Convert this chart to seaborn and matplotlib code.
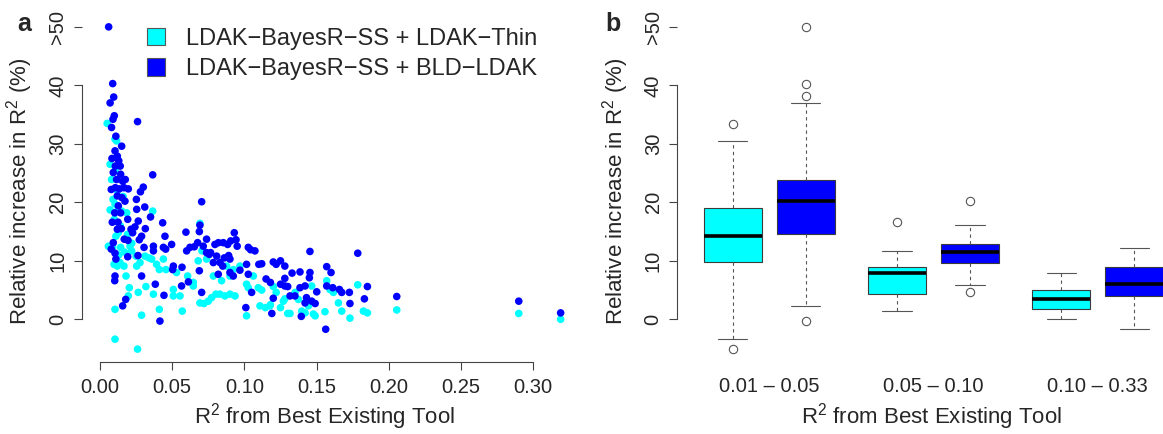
import matplotlib
matplotlib.use("Agg")
import matplotlib.pyplot as plt
from matplotlib.patches import Patch
import pandas as pd
import seaborn as sns

#%% Data
LAB_THIN = "LDAK\u2212BayesR\u2212SS + LDAK\u2212Thin"
LAB_BLD = "LDAK\u2212BayesR\u2212SS + BLD\u2212LDAK"

# panel a, LDAK-Thin (cyan)
thin_x = [0.005, 0.0104, 0.0115, 0.007, 0.008, 0.009, 0.007, 0.0104, 0.0127, 0.015,
          0.0185, 0.0365, 0.0099, 0.0127, 0.0058, 0.0088, 0.011, 0.0143, 0.0208, 0.0219,
          0.0097, 0.0138, 0.0166, 0.018, 0.0203, 0.012, 0.0254, 0.0277, 0.025, 0.0312,
          0.0339, 0.0358, 0.0392, 0.0439, 0.0411, 0.0457, 0.0318, 0.037, 0.0265, 0.0196,
          0.0104, 0.0288, 0.0411, 0.057, 0.0104, 0.026, 0.0508, 0.0508, 0.0554, 0.053,
          0.0607, 0.0646, 0.0646, 0.0692, 0.068, 0.0706, 0.0738, 0.0692, 0.072, 0.075,
          0.0773, 0.0803, 0.083, 0.0865, 0.090, 0.0935, 0.0785, 0.0842, 0.090, 0.0877,
          0.0923, 0.0969, 0.1015, 0.1027, 0.1015, 0.1062, 0.1096, 0.1108, 0.1145, 0.1177,
          0.112, 0.118, 0.122, 0.125, 0.128, 0.130, 0.120, 0.127, 0.1316, 0.1351,
          0.1374, 0.1397, 0.142, 0.1443, 0.1478, 0.149, 0.1466, 0.1558, 0.157, 0.1593,
          0.1616, 0.1651, 0.1674, 0.1731, 0.1785, 0.1824, 0.1852, 0.2055, 0.290, 0.319,
          0.012, 0.016, 0.014, 0.019, 0.022, 0.0105, 0.013, 0.017]
thin_y = [33.5, 30.8, 30.5, 26.5, 23.9, 20.5, 18.7, 19.7, 18.8, 18.5,
          18.2, 18.5, 17.1, 14.8, 12.5, 12.3, 14.2, 12.3, 12.5, 11.7,
          9.4, 9.7, 9.1, 7.4, 5.4, 9.1, 9.1, 9.7, 10.8, 10.8,
          10.5, 10.3, 9.4, 10.3, 8.5, 8.5, 5.6, 4.3, 4.6, 4.0,
          1.7, 0.7, 1.7, 1.4, -3.4, -5.1, 5.1, 4.0, 4.0, 8.0,
          7.4, 5.7, 6.3, 16.4, 10.0, 11.7, 10.3, 2.8, 2.7, 3.1,
          3.7, 4.3, 4.3, 4.0, 4.3, 4.0, 7.4, 6.6, 7.4, 9.1,
          8.5, 9.1, 6.0, 5.4, 0.6, 7.4, 5.4, 2.3, 2.0, 2.3,
          5.0, 2.5, 4.6, 2.0, 3.5, 1.0, 5.6, 3.1, 1.0, 4.6,
          3.4, 1.4, 1.1, 2.3, 0.9, 0.6, 5.7, 1.3, 6.6, 5.1,
          4.6, 2.8, 1.4, 0.2, 5.9, 1.4, 1.1, 1.6, 1.0, 0.0,
          22.0, 21.0, 16.0, 14.5, 13.0, 25.5, 11.0, 11.5]

# panel a, BLD-LDAK (blue)
bld_x = [0.006, 0.0088, 0.0095, 0.007, 0.0099, 0.009, 0.008, 0.011, 0.015, 0.0104,
         0.0083, 0.012, 0.013, 0.0106, 0.014, 0.0092, 0.0143, 0.0115, 0.0157, 0.0175,
         0.0078, 0.0106, 0.0134, 0.0166, 0.0196, 0.012, 0.0152, 0.0173, 0.0127, 0.0102,
         0.0143, 0.0085, 0.0125, 0.0192, 0.012, 0.0148, 0.0215, 0.0226, 0.0168, 0.0194,
         0.0092, 0.0078, 0.0104, 0.011, 0.0192, 0.0104, 0.0102, 0.0288, 0.0178, 0.0157,
         0.0415, 0.026, 0.0365, 0.030, 0.028, 0.0252, 0.0254, 0.031, 0.035, 0.0434,
         0.0242, 0.0265, 0.0314, 0.0288, 0.0272, 0.0305, 0.037, 0.045, 0.0439, 0.0496,
         0.0263, 0.037, 0.0455, 0.0508, 0.0503, 0.0383, 0.0443, 0.0568, 0.0595, 0.060,
         0.0565, 0.0612, 0.0704, 0.0692, 0.0688, 0.0653, 0.0676, 0.0623, 0.0715, 0.0738,
         0.0738, 0.0766, 0.0796, 0.082, 0.0854, 0.0884, 0.0905, 0.093, 0.0942, 0.095,
         0.0688, 0.0704, 0.0757, 0.0785, 0.0808, 0.0831, 0.085, 0.0861, 0.0891, 0.090,
         0.0819, 0.090, 0.0923, 0.0969, 0.1015, 0.1027, 0.1043, 0.1073, 0.110, 0.1027,
         0.101, 0.105, 0.112, 0.115, 0.118, 0.120, 0.122, 0.125, 0.125, 0.128,
         0.130, 0.120, 0.119, 0.135, 0.128, 0.133, 0.1385, 0.1454, 0.1454, 0.145,
         0.128, 0.1385, 0.142, 0.1316, 0.143, 0.1466, 0.142, 0.149, 0.1394, 0.1501,
         0.1563, 0.157, 0.160, 0.157, 0.1612, 0.1658, 0.1674, 0.1727, 0.1731, 0.1785,
         0.1831, 0.1852, 0.2055, 0.290, 0.319]
bld_y = [50.0, 40.3, 38.0, 37.0, 34.8, 34.2, 32.8, 31.3, 29.6, 28.8,
         27.5, 27.9, 27.1, 26.2, 26.2, 25.1, 24.8, 23.9, 23.6, 23.9,
         22.2, 22.5, 22.3, 22.5, 22.3, 21.1, 20.8, 20.2, 19.4, 18.2,
         18.2, 16.6, 16.6, 17.1, 15.4, 15.5, 15.4, 14.8, 13.7, 13.5,
         13.1, 12.0, 11.3, 10.3, 10.7, 7.4, 6.6, 7.4, 3.4, 2.3,
         -0.3, 33.8, 24.7, 22.6, 21.8, 20.5, 18.8, 19.2, 17.5, 16.5,
         15.8, 16.8, 15.5, 14.2, 13.6, 12.3, 12.5, 14.2, 12.3, 12.8,
         10.9, 11.7, 12.0, 9.1, 8.5, 6.0, 4.1, 8.9, 14.9, 11.7,
         5.7, 6.4, 20.1, 16.1, 15.0, 12.4, 13.1, 12.3, 12.5, 13.7,
         11.4, 11.4, 12.8, 13.1, 13.1, 12.8, 13.4, 14.8, 13.6, 12.5,
         8.3, 4.6, 11.1, 9.7, 10.8, 9.7, 9.1, 10.5, 10.9, 10.3,
         7.7, 8.0, 7.4, 8.4, 9.4, 12.3, 11.9, 11.7, 9.4, 7.7,
         2.0, 4.6, 9.5, 6.9, 6.3, 9.8, 9.4, 10.0, 6.0, 7.0,
         5.6, 3.6, 1.0, 4.0, 9.1, 7.9, 8.1, 11.6, 8.0, 7.1,
         5.7, 5.4, 5.7, 4.0, 3.7, 3.1, 2.8, 2.7, 0.5, 4.7,
         -1.7, 9.0, 8.0, 5.7, 5.4, 5.1, 4.6, 4.6, 2.7, 11.3,
         3.5, 5.6, 3.9, 3.1, 1.1]

bins = ["0.01 \u2013 0.05", "0.05 \u2013 0.10", "0.10 \u2013 0.33"]
thin_bin1 = [-5.1, -3.4, 9.8, 12.0, 14.2, 16.5, 19.1, 30.5, 33.4]
thin_bin2 = [1.4, 3.0, 4.3, 6.0, 7.9, 8.5, 9.0, 11.6, 16.6]
thin_bin3 = [0.1, 1.7, 3.5, 5.0, 7.9]
bld_bin1 = [-0.3, 2.2, 8.0, 12.0, 14.6, 16.0, 17.5, 19.0, 20.2, 21.0, 22.0, 23.0,
            23.8, 37.0, 38.1, 40.3, 50.0]
bld_bin2 = [4.7, 5.9, 9.7, 10.5, 11.5, 12.2, 12.9, 16.1, 20.2]
bld_bin3 = [-1.7, 4.0, 6.0, 8.9, 12.2]
box_pos = [1.0, 2.0, 3.25, 4.25, 5.5, 6.5]   # R boxplot "at" positions
label_pos = [1.5, 3.75, 6.0]

#%% Style
sns.set_style("ticks")
plt.rcParams['font.family'] = ['Liberation Sans', 'DejaVu Sans']
plt.rcParams['mathtext.fontset'] = 'custom'
plt.rcParams['mathtext.rm'] = 'Liberation Sans'
plt.rcParams['mathtext.it'] = 'Liberation Sans:italic'

CYAN = "#00FFFF"
BLUE = "#0000FF"
AXC = "#444444"
palette = {LAB_THIN: CYAN, LAB_BLD: BLUE}

W, H = 1163, 434
fig = plt.figure(figsize=(W / 100, H / 100), dpi=100)
ax_a = fig.add_axes([81.7 / W, 1 - 362 / H, (568 - 81.7) / W, 348 / H])
ax_b = fig.add_axes([677.3 / W, 1 - 362 / H, (1163 - 677.3) / W, 348 / H])


def style_y(ax, width_px):
    ax.set_ylim(-7.3, 52.2)
    ax.set_yticks([0, 10, 20, 30, 40, 50])
    ax.set_yticklabels(['0', '10', '20', '30', '40', '>50'], rotation=90, va='center')
    ax.spines['left'].set_bounds(0, 40)
    ax.spines['left'].set_color(AXC)
    ax.spines['left'].set_linewidth(0.8)
    for s in ['top', 'right']:
        ax.spines[s].set_visible(False)
    ax.tick_params(axis='y', length=5.5, width=0.8, color=AXC, labelsize=14.5, pad=5)
    ax.set_ylabel('Relative increase in R$^2$ (%)', fontsize=16)
    ax.yaxis.set_label_coords(-46.7 / width_px, 0.49)


#%% Panel a - scatter
df_a = pd.DataFrame({
    'x': thin_x + bld_x,
    'y': thin_y + bld_y,
    'method': [LAB_THIN] * len(thin_x) + [LAB_BLD] * len(bld_x),
})
sns.scatterplot(data=df_a, x='x', y='y', hue='method', palette=palette,
                s=30, linewidth=0, legend=False, ax=ax_a)
ax_a.set_xlim(-0.01267, 0.3241)
ax_a.set_xticks([0, 0.05, 0.10, 0.15, 0.20, 0.25, 0.30])
ax_a.set_xticklabels(['0.00', '0.05', '0.10', '0.15', '0.20', '0.25', '0.30'])
ax_a.spines['bottom'].set_bounds(0, 0.30)
ax_a.spines['bottom'].set_color(AXC)
ax_a.spines['bottom'].set_linewidth(0.8)
ax_a.tick_params(axis='x', length=5.5, width=0.8, color=AXC, labelsize=14.5, pad=6)
style_y(ax_a, 568 - 81.7)
ax_a.set_xlabel('R$^2$ from Best Existing Tool', fontsize=16)
ax_a.xaxis.set_label_coords(0.5, -0.113)

#%% Panel b - boxplots
box_values = [thin_bin1, bld_bin1, thin_bin2, bld_bin2, thin_bin3, bld_bin3]
box_method = [LAB_THIN, LAB_BLD] * 3
rows = []
for p, vals, m in zip(box_pos, box_values, box_method):
    for v in vals:
        rows.append({'pos': p, 'value': v, 'method': m})
df_b = pd.DataFrame(rows)

sns.boxplot(data=df_b, x='pos', y='value', hue='method', palette=palette,
            native_scale=True, dodge=False, width=0.8, saturation=1,
            linecolor='#3a3a3a', linewidth=0.8, whis=1.5, legend=False,
            medianprops={'color': 'black', 'linewidth': 2.6},
            whiskerprops={'color': '#555555', 'linestyle': (0, (3, 3))},
            capprops={'color': '#555555'},
            flierprops={'marker': 'o', 'markersize': 6, 'markerfacecolor': 'none',
                        'markeredgecolor': '#555555', 'markeredgewidth': 0.8},
            ax=ax_b)
ax_b.set_xlim(0.241, 6.894)
ax_b.set_xticks(label_pos)
ax_b.set_xticklabels(bins)
ax_b.spines['bottom'].set_visible(False)
ax_b.tick_params(axis='x', length=0, labelsize=14.5, pad=11)
style_y(ax_b, 1163 - 677.3)
ax_b.set_xlabel('R$^2$ from Best Existing Tool', fontsize=16)
ax_b.xaxis.set_label_coords((932 - 677.3) / (1163 - 677.3), -0.113)

#%% Legend and panel letters
handles = [Patch(facecolor=CYAN, edgecolor='#555555', linewidth=0.8),
           Patch(facecolor=BLUE, edgecolor='#555555', linewidth=0.8)]
fig.legend(handles, [LAB_THIN, LAB_BLD], loc='upper left',
           bbox_to_anchor=(147 / W, 1 - 28 / H), frameon=False, fontsize=17,
           handlelength=0.75, handleheight=0.75, handletextpad=0.9,
           labelspacing=0.35, borderpad=0, borderaxespad=0)

fig.text(17 / W, 1 - 24 / H, 'a', fontsize=18, fontweight='bold', va='center')
fig.text(605 / W, 1 - 24 / H, 'b', fontsize=18, fontweight='bold', va='center')

fig.savefig('out.png', dpi=100)
